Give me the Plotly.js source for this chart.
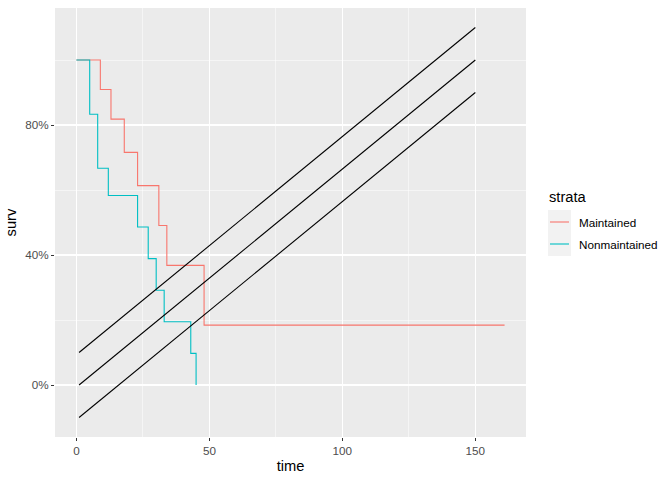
<!DOCTYPE html>
<html>
<head>
<meta charset="utf-8">
<script src="https://cdn.plot.ly/plotly-3.0.1.min.js"></script>
<style>html,body{margin:0;padding:0;background:#fff;}#chart{width:672px;height:480px;}</style>
</head>
<body>
<div id="chart"></div>
<script>
// Kaplan-Meier steps
const maintTime = [0, 9, 13, 18, 23, 31, 34, 48, 161];
const maintSurv = [1, 0.9091, 0.8182, 0.7159, 0.6136, 0.4909, 0.3682, 0.1841, 0.1841];
const nonTime = [0, 5, 8, 12, 23, 27, 30, 33, 43, 45];
const nonSurv = [1, 0.8333, 0.6667, 0.5833, 0.4861, 0.3889, 0.2917, 0.1944, 0.0972, 0];
// reference lines
const refX = [1, 150];
const refUpper = [0.1, 1.1];
const refMid = [0, 1.0];
const refLower = [-0.1, 0.9];
const yTickVals = [0, 0.4, 0.8];
const yTickText = ["0%", "40%", "80%"];
const xTickVals = [0, 50, 100, 150];
const strataNames = ["Maintained", "Nonmaintained"];
const strataColors = ["#F8766D", "#00BFC4"];

const traces = [
  {x: maintTime, y: maintSurv, mode: "lines", line: {shape: "hv", color: strataColors[0], width: 1.1}, name: strataNames[0]},
  {x: nonTime, y: nonSurv, mode: "lines", line: {shape: "hv", color: strataColors[1], width: 1.1}, name: strataNames[1]},
  {x: refX, y: refUpper, mode: "lines", line: {color: "#000", width: 1.1}},
  {x: refX, y: refMid, mode: "lines", line: {color: "#000", width: 1.1}},
  {x: refX, y: refLower, mode: "lines", line: {color: "#000", width: 1.1}}
];

// plot area in pixels
const M = {l: 55, r: 146, t: 8, b: 43};
const W = 672, H = 480;
const pw = W - M.l - M.r, ph = H - M.t - M.b;
const px = v => (v - M.l) / pw;
const py = v => (H - M.b - v) / ph;

const shapes = [
  {type: "rect", xref: "paper", yref: "paper", x0: px(548), x1: px(571), y0: py(210), y1: py(256), fillcolor: "#F2F2F2", line: {width: 0}, layer: "below"}
];
const annotations = [
  {xref: "paper", yref: "paper", x: px(547), y: py(197), xanchor: "left", yanchor: "middle", text: "strata", showarrow: false, font: {size: 14.7, color: "#000"}}
];
strataNames.forEach((n, i) => {
  const yy = 222 + i * 22;
  shapes.push({type: "line", xref: "paper", yref: "paper", x0: px(550), x1: px(569), y0: py(yy), y1: py(yy), line: {color: strataColors[i], width: 1.1}});
  annotations.push({xref: "paper", yref: "paper", x: px(577), y: py(yy), xanchor: "left", yanchor: "middle", text: n, showarrow: false, font: {size: 11.7, color: "#000"}});
});

const font = "Liberation Sans, Arial, sans-serif";
const layout = {
  width: W, height: H,
  margin: M,
  paper_bgcolor: "#fff", plot_bgcolor: "#EBEBEB",
  font: {family: font, color: "#4D4D4D"},
  showlegend: false,
  shapes: shapes, annotations: annotations,
  xaxis: {
    range: [-8.05, 169.05], tickvals: xTickVals, ticks: "outside", ticklen: 3, tickcolor: "#333",
    tickfont: {size: 11.7, color: "#4D4D4D"}, showgrid: true, gridcolor: "#fff", gridwidth: 1.1,
    zeroline: false, showline: false,
    minor: {tickvals: [25, 75, 125], showgrid: true, gridcolor: "#fff", gridwidth: 0.5, ticks: ""},
    title: {text: "time", font: {size: 14.7, color: "#000"}, standoff: 4}
  },
  yaxis: {
    range: [-0.16, 1.16], tickvals: yTickVals, ticktext: yTickText, ticks: "outside", ticklen: 3, tickcolor: "#333",
    tickfont: {size: 11.7, color: "#4D4D4D"}, showgrid: true, gridcolor: "#fff", gridwidth: 1.1,
    zeroline: false, showline: false,
    minor: {tickvals: [0.2, 0.6, 1.0], showgrid: true, gridcolor: "#fff", gridwidth: 0.5, ticks: ""},
    title: {text: "surv", font: {size: 14.7, color: "#000"}, standoff: 5}
  }
};
Plotly.newPlot("chart", traces, layout, {displayModeBar: false, staticPlot: true});
</script>
</body>
</html>
